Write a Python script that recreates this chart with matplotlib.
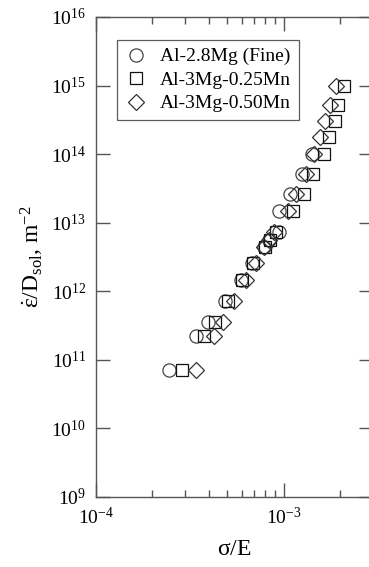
import numpy as np
import matplotlib
matplotlib.use('Agg')
import matplotlib.pyplot as plt
from matplotlib.ticker import LogLocator, NullLocator, NullFormatter

plt.rcParams['font.family'] = ['Liberation Serif', 'DejaVu Serif']
plt.rcParams['mathtext.fontset'] = 'custom'
plt.rcParams['mathtext.rm'] = 'Liberation Serif'
plt.rcParams['mathtext.it'] = 'Liberation Serif:italic'
plt.rcParams['mathtext.bf'] = 'Liberation Serif:bold'

# Data (sigma/E, strain rate / D_sol)
fine_x = [1.41e-3, 1.26e-3, 1.08e-3, 9.5e-4, 9.4e-4, 8.4e-4, 7.9e-4, 6.83e-4, 5.93e-4, 4.9e-4, 3.98e-4, 3.43e-4, 2.44e-4]
fine_y = [1.0e14, 5.1e13, 2.6e13, 1.5e13, 7.3e12, 5.6e12, 4.4e12, 2.56e12, 1.46e12, 7.3e11, 3.6e11, 2.2e11, 7.1e10]

mn25_x = [2.10e-3, 1.96e-3, 1.87e-3, 1.75e-3, 1.64e-3, 1.44e-3, 1.28e-3, 1.12e-3, 9.1e-4, 8.5e-4, 8.0e-4, 6.9e-4, 6.04e-4, 5.08e-4, 4.33e-4, 3.79e-4, 2.87e-4]
mn25_y = [1.0e15, 5.2e14, 3.0e14, 1.8e14, 1.0e14, 5.1e13, 2.6e13, 1.5e13, 7.3e12, 5.6e12, 4.4e12, 2.56e12, 1.46e12, 7.3e11, 3.6e11, 2.2e11, 7.1e10]

mn50_x = [1.90e-3, 1.76e-3, 1.67e-3, 1.57e-3, 1.46e-3, 1.32e-3, 1.17e-3, 1.05e-3, 8.9e-4, 8.36e-4, 7.87e-4, 7.17e-4, 6.3e-4, 5.42e-4, 4.74e-4, 4.24e-4, 3.43e-4]
mn50_y = [1.0e15, 5.2e14, 3.0e14, 1.8e14, 1.0e14, 5.1e13, 2.6e13, 1.5e13, 7.3e12, 5.6e12, 4.4e12, 2.56e12, 1.46e12, 7.3e11, 3.6e11, 2.2e11, 7.1e10]

fig = plt.figure(figsize=(3.69, 5.67), dpi=100)
ax = fig.add_axes([0.260, 0.1235, 0.751, 0.8466])

ax.plot(fine_x, fine_y, linestyle='none', marker='o', ms=9.5, mfc='none',
        mec='#444444', mew=0.9, label='Al-2.8Mg (Fine)')
ax.plot(mn25_x, mn25_y, linestyle='none', marker='s', ms=8, mfc='none',
        mec='#111111', mew=0.9, label='Al-3Mg-0.25Mn')
ax.plot(mn50_x, mn50_y, linestyle='none', marker='D', ms=8, mfc='none',
        mec='#333333', mew=0.9, label='Al-3Mg-0.50Mn')

ax.set_xscale('log')
ax.set_yscale('log')
ax.set_xlim(1e-4, 3e-3)
ax.set_ylim(1e9, 1e16)

ax.xaxis.set_major_locator(LogLocator(base=10))
ax.xaxis.set_minor_locator(LogLocator(base=10, subs=np.arange(2, 10)))
ax.xaxis.set_minor_formatter(NullFormatter())
ax.yaxis.set_major_locator(LogLocator(base=10, numticks=10))
ax.yaxis.set_minor_locator(NullLocator())

ax.tick_params(which='both', direction='in', top=True, right=True,
               color='#555555', width=1.0)
ax.tick_params(which='major', length=10, labelsize=14, pad=7)
ax.tick_params(which='minor', length=5)
for s in ax.spines.values():
    s.set_color('#555555')
    s.set_linewidth(1.0)

ax.set_xlabel(r'$\mathrm{\sigma}$/E', fontsize=17, labelpad=8)
ax.set_ylabel(r'$\dot{\mathrm{\varepsilon}}$/D$_{\mathrm{sol}}$, m$^{-2}$', fontsize=17, labelpad=4)

leg = ax.legend(loc='upper left', bbox_to_anchor=(0.076, 0.952), fontsize=14,
                frameon=True, fancybox=False, edgecolor='#333333',
                handletextpad=0.6, borderpad=0.4, labelspacing=0.3,
                handlelength=1.2, borderaxespad=0)
leg.get_frame().set_linewidth(0.9)

plt.savefig('out.png', dpi=100)
